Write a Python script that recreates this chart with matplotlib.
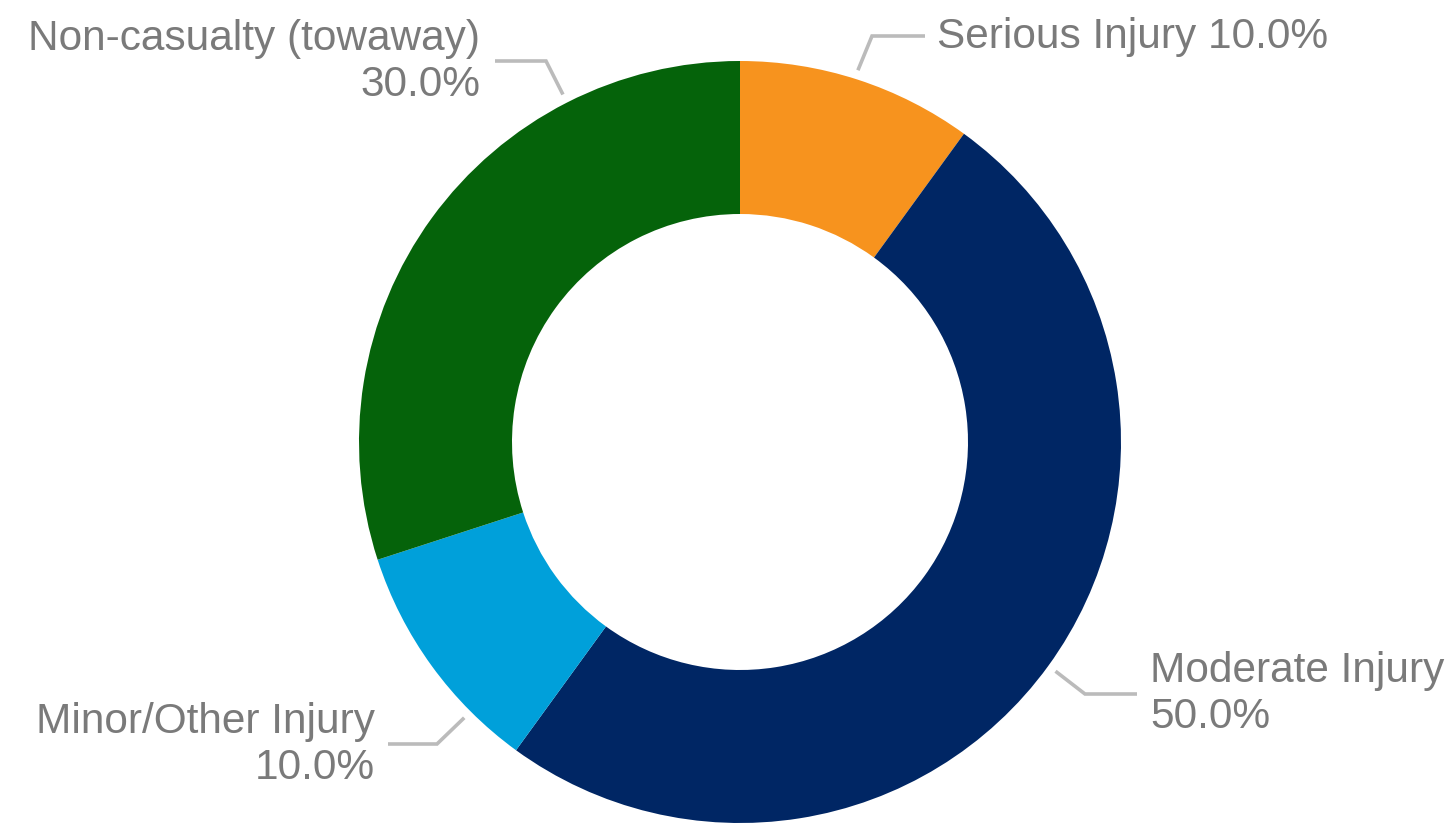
import matplotlib
matplotlib.use("Agg")
import matplotlib.pyplot as plt
import numpy as np

categories = ["Serious Injury", "Moderate Injury", "Minor/Other Injury", "Non-casualty (towaway)"]
values = [10.0, 50.0, 10.0, 30.0]
colors = ["#F7931E", "#002664", "#00A0DA", "#05630A"]
label_texts = ["Serious Injury 10.0%", "Moderate Injury\n50.0%", "Minor/Other Injury\n10.0%",
               "Non-casualty (towaway)\n30.0%"]

W, H = 1453, 828
fig = plt.figure(figsize=(W / 100, H / 100), dpi=100)
ax = fig.add_axes([0, 0, 1, 1])

cx, cy = 740, H - 443
R = 381
r_in = 228
ax.pie(values, colors=colors, startangle=90, counterclock=False, radius=R, center=(cx, cy),
       wedgeprops=dict(width=R - r_in, linewidth=0), frame=True)
ax.set_xlim(0, W)
ax.set_ylim(0, H)
ax.axis("off")

# label layout: (leader angle deg, elbow (px), line end (px), text anchor (px), ha)
layout = [
    (72.4, (872, 37), (925, 37), (937, 37), "left"),
    (-36.0, (1085, 695), (1137, 695), (1150, 694), "left"),
    (-135.0, (437, 745), (388, 745), (375, 745), "right"),
    (117.0, (546, 62), (495, 62), (480, 62), "right"),
]
line_col = "#BBBBBB"
txt_col = "#7A7A7A"
for (ang, elbow, end, tpos, ha), txt in zip(layout, label_texts):
    a = np.deg2rad(ang)
    sx = cx + (R + 9) * np.cos(a)
    sy = cy + (R + 9) * np.sin(a)
    ax.plot([sx, elbow[0], end[0]], [sy, H - elbow[1], H - end[1]], color=line_col, lw=2.6,
            solid_capstyle="butt", solid_joinstyle="miter")
    ax.text(tpos[0], H - tpos[1], txt, ha=ha, va="center", fontsize=30.5, color=txt_col,
            family=["Liberation Sans", "DejaVu Sans"], linespacing=1.2,
            multialignment=ha)

fig.savefig("out.png", dpi=100)
